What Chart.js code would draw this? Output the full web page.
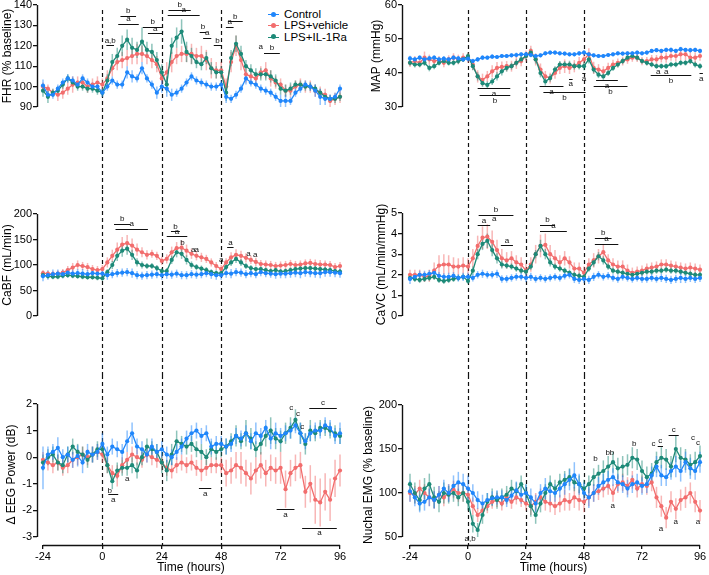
<!DOCTYPE html>
<html>
<head>
<meta charset="utf-8">
<script src="https://cdn.jsdelivr.net/npm/chart.js@4.4.1/dist/chart.umd.min.js"></script>
<style>
  body { margin: 0; background: #fff; width: 709px; height: 575px; position: relative; overflow: hidden;
         font-family: "Liberation Sans", Arial, sans-serif; }
  #legend { position: absolute; left: 268px; top: 8px; width: 90px; height: 36px; }
  .lg-row { position: absolute; left: 0; height: 12px; font-size: 11.5px; line-height: 12px; white-space: nowrap; color: #000; }
  .lg-line { position: absolute; left: 0; top: 6px; width: 11px; height: 1px; }
  .lg-dot { position: absolute; left: 3px; top: 3.5px; width: 5px; height: 5px; border-radius: 50%; }
  .lg-text { position: absolute; left: 16px; top: 0; }
</style>
</head>
<body>
<div id="legend"></div>
<script>
// time points (hours relative to LPS)
const hours = [-24,-22,-20,-18,-16,-14,-12,-10,-8,-6,-4,-2,0,2,4,6,8,10,12,14,16,18,20,22,24,26,28,30,32,34,36,38,40,42,44,46,48,50,52,54,56,58,60,62,64,66,68,70,72,74,76,78,80,82,84,86,88,90,92,94,96];
const xTicks = [-24, 0, 24, 48, 72, 96];
const injectionHours = [0, 24, 48];

const groupNames = ['Control', 'LPS+vehicle', 'LPS+IL-1Ra'];
const groupColors = ['#1f86fb', '#f26d6d', '#1d8a78'];
const groupErrColors = ['rgba(31,134,251,0.5)', 'rgba(242,109,109,0.5)', 'rgba(29,138,120,0.5)'];

// FHR (% baseline)
const fhrTicks = [90, 100, 110, 120, 130, 140];
const fhrControl = [100.5,96,96,99,102,104,103,101,104,102,100,100,97, 100,103,101,101,107,105,104,109,104,101,97,100, 99,96,97,99,102,105,103,102,101,100,100,101, 95,94,96,99,104,102,101,99,98,97,95,93, 93,93,97,99,101,100,98,95,94,94,95,99];
const fhrVehicle = [100,99,97,96,97,99,101,102,102,100,101,102,101, 104,109,112,113,114,115,116,116,115,113,111,104, 107,112,115,116,116,116,115,115,113,109,108,108, 100,112,120,113,106,105,104,107,108,104,102,101, 98,98,100,101,100,100,98,97,96,93,94,95];
const fhrIL1Ra = [98,95,97,98,101,104,102,100,100,99,99,98,97, 103,112,115,120,123,119,118,122,118,117,113,107, 101,120,124,127,117,115,112,111,114,109,107,107, 97,114,121,116,110,108,106,106,106,105,103,99, 98,99,101,101,100,100,99,97,95,94,94,95];
const fhrControlErr = [3,2,2,2,2,2,2,2,2,2,2,2,2, 2,2,2,2,3,3,2,3,2,2,3,3, 4,3,2,2,2,2,2,2,2,2,2,2, 3,2,2,2,3,2,2,2,2,2,2,3, 3,2,2,2,2,2,3,4,3,2,2,2];
const fhrVehicleErr = [2,2,2,3,3,3,4,3,3,3,3,3,3, 4,4,4,4,4,4,5,4,4,4,4,4, 5,5,4,4,4,5,4,5,5,5,4,4, 4,5,5,5,4,4,3,3,4,4,3,3, 3,3,3,3,3,3,3,3,3,3,3,3];
const fhrIL1RaErr = [3,3,2,2,2,2,2,2,2,2,2,2,2, 3,4,4,5,5,5,4,7,4,4,4,4, 4,4,5,6,5,4,3,3,3,3,3,3, 4,4,4,4,3,3,3,3,3,3,3,3, 3,3,2,2,2,2,2,2,2,2,2,2];
const fhrNotes = [
  ['a,b', 1.6, 4.7, 120.2, 'up'], ['b', 7.3, 13.6, 134.6, 'up'], ['a', 6.4, 14.7, 130.8, 'up'],
  ['b', 16.3, 24.3, 129.3, 'up'], ['a', 18.4, 24.3, 126.1, 'up'], ['b', 26.7, 35.7, 137.7, 'up'],
  ['a', 26.4, 39.3, 135, 'up'], ['b', 39.3, 42, 126.8, 'up'], ['a', 40.7, 44, 124, 'up'],
  ['b', 45, 48, 120.2, 'up'], ['a', 49.9, 53, 129.3, 'up'], ['b', 50.7, 56.7, 132, 'up'],
  ['a', 64, null, 119.4], ['b', 65.3, 71.7, 116.7, 'up']
];

// MAP (mmHg)
const mapTicks = [30, 40, 50, 60];
const mapControl = [44.3,44,44.5,44,44.3,44.5,44,44.2,44,44.5,44.3,44,44.2, 43.5,44,44.5,44.5,44.8,44.7,45,45,45.2,45.3,45.5,45.5, 45.3,45,45.2,45.8,46,46,45.8,45.7,45.5,45.5,45.8,46, 45.5,45.2,45,45,45.3,45.5,45.8,45.7,45.8,45.8,46,45.8, 46,46.5,46.7,46.5,46.8,46.8,46.5,47,46.8,46.7,46.8,46.5];
const mapVehicle = [43,43.5,43,44.5,44,43.5,43.8,43,44,44.5,44,44.5,44.5, 42.5,39,38,39,40.5,41.5,41.8,42,42,43,43.5,45, 46.5,44,41,39,38.5,40,41.5,42,41.5,42,43,44, 45.5,41.5,41,40.5,41.5,42.5,43,43.5,44,44.5,44.5,43.5, 43.5,44,44,44.5,44.5,45,45,45.5,45.5,44.5,44.5,45];
const mapIL1Ra = [43,42.5,42.5,43,41.5,42,43,43.5,43,43,43.5,44,45, 42,39,37,36.5,37.5,39,40.5,41.5,42,43,44,45, 46,44,40,37.5,38.5,41,42.5,42.5,42.5,42,42,42, 44,41,39.5,39,40,41.5,42.5,43.5,44.5,45,44.5,43.5, 43,42.5,42,42,42,42.5,42.5,43,43,43.5,42.5,42];
const mapControlErr = [0.8,0.7,0.7,0.8,0.7,0.7,0.7,0.8,0.7,0.7,0.7,0.7,0.8, 0.7,0.7,0.7,0.6,0.7,0.6,0.6,0.6,0.6,0.7,0.6,0.7, 0.7,0.6,0.6,0.6,0.6,0.6,0.6,0.6,0.6,0.6,0.7,0.8, 0.7,0.6,0.6,0.6,0.6,0.6,0.6,0.6,0.6,0.6,0.6,0.6, 0.6,0.6,0.6,0.6,0.6,0.7,0.6,0.7,0.6,0.7,0.6,0.6];
const mapVehicleErr = [1.2,1.5,1.3,1.8,1.4,1.3,1.2,1.3,1.2,1.3,1.4,1.3,1.5, 1.6,1.8,1.8,1.6,1.8,1.7,1.6,1.5,1.6,1.8,1.5,1.6, 1.5,1.8,1.8,1.6,1.6,1.7,1.8,2.0,1.8,1.8,1.7,1.8, 1.8,1.8,1.6,1.5,1.5,1.4,1.3,1.3,1.3,1.2,1.3,1.2, 1.2,1.3,1.3,1.4,1.5,1.4,1.6,1.8,1.8,1.9,1.6,1.4];
const mapIL1RaErr = [0.9,0.9,0.8,0.9,1.0,0.9,0.8,0.9,0.8,0.8,0.9,0.8,1.0, 1.2,1.2,1.1,1.0,1.0,1.2,1.2,1.1,1.0,1.0,1.1,1.2, 1.2,1.2,1.3,1.2,1.1,1.0,1.0,1.0,1.1,1.0,1.0,1.2, 1.2,1.1,1.0,1.0,0.9,0.9,0.9,0.9,0.9,0.8,0.8,0.8, 0.8,0.8,0.8,0.8,0.8,0.8,0.8,0.8,0.8,0.8,0.9,0.9];
const mapNotes = [
  ['a', 4, 17.5, 35.5, 'down'], ['b', 4.8, 17.5, 33.5, 'down'], ['a', 29.6, 39.5, 36.1, 'down'],
  ['b', 31.2, 48.7, 34.4, 'down'], ['a', 41.8, 43.3, 38.3, 'down'], ['a', 47.3, 48.6, 39.9, 'down'],
  ['a', 53, 62, 37.8, 'down'], ['b', 52, 66, 36.1, 'down'], ['a', 78.7, null, 40.5],
  ['a', 82, null, 40.5], ['b', 75.6, 92.4, 39.3, 'down'], ['a', 95.8, 97.2, 40, 'down']
];

// CaBF (mL/min)
const cabfTicks = [0, 50, 100, 150, 200];
const cabfControl = [78,80,82,83,82,85,83,84,83,82,84,83,83, 80,82,84,85,86,84,80,79,80,81,82,80, 82,81,83,80,80,82,81,82,84,82,80,80, 84,83,86,85,82,84,82,86,84,83,82,83, 83,84,85,84,86,85,84,84,86,86,85,84];
const cabfVehicle = [84,83,82,83,85,90,95,100,98,96,92,90,92, 105,118,130,140,143,138,130,125,120,122,118,108, 112,125,133,134,128,122,118,115,112,105,98,92, 105,115,120,118,114,110,106,102,101,100,98,99, 100,102,100,101,103,104,102,101,101,100,96,98];
const cabfIL1Ra = [80,78,77,77,79,80,79,78,77,76,76,75,74, 86,100,118,128,132,120,105,100,98,98,94,88, 88,110,125,122,110,100,96,93,90,86,84,84, 96,105,112,105,98,94,92,92,90,88,90,87, 88,90,92,93,94,94,93,92,91,90,88,87];
const cabfControlErr = [10,9,9,8,8,9,8,8,9,8,8,9,9, 9,8,8,8,8,9,8,8,8,8,8,9, 9,8,8,8,8,8,8,8,8,9,9,9, 9,9,8,8,8,8,8,8,8,8,9,9, 9,9,9,10,9,9,9,10,9,9,9,9];
const cabfVehicleErr = [6,6,6,6,7,8,9,9,8,8,8,8,8, 10,12,14,15,16,14,12,10,9,8,8,8, 9,11,12,14,12,10,9,9,8,8,8,8, 8,10,11,10,9,8,8,8,8,8,8,8, 8,8,8,8,8,8,9,9,8,8,8,8];
const cabfIL1RaErr = [6,5,5,5,5,5,5,5,5,5,5,5,5, 6,8,10,12,12,10,8,7,6,6,6,6, 6,8,10,10,9,7,6,6,6,5,5,5, 6,7,8,7,6,6,5,5,5,5,5,5, 5,5,5,5,5,5,5,5,5,5,5,5];
const cabfNotes = [
  ['b', 4.7, 11.3, 181, 'up'], ['a', 5.3, 18.4, 171, 'up'], ['b', 27.7, 31.3, 166, 'up'],
  ['a', 26, 34.3, 156, 'up'], ['b', 32.4, null, 143], ['a', 36.7, null, 130], ['a', 38.1, null, 129],
  ['a', 50.4, 53, 134.7, 'up'], ['a', 59, null, 121.5], ['a', 61.7, null, 120.5], ['a', 48, null, 110]
];

// CaVC (mL/min/mmHg)
const cavcTicks = [0, 1, 2, 3, 4, 5];
const cavcControl = [1.8,1.9,2.0,2.0,2.05,2.1,1.95,1.9,1.9,1.95,1.85,1.9,1.9, 1.85,2.0,2.05,2.0,2.0,2.05,1.8,1.8,1.85,1.9,1.9,1.85, 1.9,1.8,1.85,1.8,1.85,1.9,1.85,1.95,2.0,1.8,1.75,1.8, 1.75,1.9,2.0,1.9,1.95,1.85,1.8,1.9,1.85,1.8,1.85,1.8, 1.8,1.85,1.8,1.85,1.8,1.75,1.8,1.85,1.8,1.85,1.8,1.85];
const cavcVehicle = [2.0,2.0,2.0,1.9,1.95,2.2,2.45,2.5,2.5,2.4,2.4,2.45,2.4, 2.8,3.4,3.8,3.85,3.6,3.2,2.8,2.7,2.8,2.6,2.5,2.2, 2.5,3.0,3.4,3.45,3.0,2.8,2.6,2.8,2.6,2.3,2.3,2.1, 2.5,2.7,2.9,3.1,2.7,2.5,2.4,2.4,2.2,2.1,2.15,2.2, 2.3,2.35,2.4,2.5,2.5,2.45,2.4,2.35,2.3,2.35,2.3,2.25];
const cavcIL1Ra = [1.85,1.8,1.75,1.8,1.85,1.9,1.75,1.7,1.75,1.8,1.85,1.9,1.7, 2.2,3.0,3.5,3.65,3.2,2.8,2.5,2.45,2.4,2.3,2.2,2.15, 2.4,3.0,3.4,3.0,2.6,2.4,2.3,2.2,2.1,2.0,1.95,1.9, 2.3,2.6,2.9,2.7,2.4,2.2,2.15,2.1,2.05,2.0,2.05,2.1, 2.15,2.15,2.2,2.2,2.25,2.2,2.2,2.15,2.1,2.05,2.0,2.0];
const cavcControlErr = [0.25,0.2,0.2,0.2,0.18,0.2,0.18,0.18,0.2,0.18,0.18,0.2,0.2, 0.18,0.18,0.2,0.18,0.18,0.2,0.18,0.18,0.18,0.18,0.18,0.2, 0.2,0.18,0.18,0.18,0.18,0.18,0.18,0.18,0.18,0.2,0.2,0.2, 0.2,0.2,0.18,0.18,0.18,0.18,0.18,0.18,0.18,0.18,0.18,0.18, 0.18,0.18,0.18,0.2,0.2,0.2,0.2,0.25,0.2,0.2,0.2,0.2];
const cavcVehicleErr = [0.25,0.25,0.25,0.25,0.3,0.4,0.5,0.5,0.45,0.45,0.4,0.4,0.4, 0.45,0.5,0.55,0.6,0.55,0.5,0.45,0.4,0.35,0.35,0.35,0.35, 0.35,0.45,0.55,0.55,0.45,0.4,0.35,0.35,0.3,0.3,0.3,0.3, 0.3,0.35,0.35,0.35,0.3,0.3,0.3,0.3,0.3,0.25,0.25,0.25, 0.25,0.25,0.25,0.25,0.25,0.25,0.25,0.25,0.25,0.25,0.25,0.25];
const cavcIL1RaErr = [0.15,0.15,0.15,0.15,0.15,0.15,0.15,0.15,0.15,0.15,0.15,0.15,0.15, 0.2,0.25,0.3,0.35,0.3,0.25,0.2,0.15,0.15,0.15,0.15,0.15, 0.15,0.2,0.3,0.25,0.2,0.15,0.15,0.15,0.15,0.15,0.15,0.15, 0.15,0.2,0.2,0.2,0.15,0.15,0.15,0.15,0.15,0.15,0.15,0.15, 0.15,0.15,0.15,0.15,0.15,0.15,0.15,0.15,0.15,0.15,0.15,0.15];
const cavcNotes = [
  ['b', 4.4, 18.8, 4.9, 'up'], ['a', 4, 9.2, 4.4, 'up'], ['a', 10.9, null, 4.72],
  ['a', 13.6, 18.6, 3.43, 'up'], ['b', 29.8, 36, 4.43, 'up'], ['a', 29.8, 40.9, 4.12, 'up'],
  ['b', 52.5, 59.4, 3.8, 'up'], ['a', 52.5, 62.2, 3.49, 'up']
];

// Δ EEG Power (dB)
const eegTicks = [-3, -2, -1, 0, 1, 2];
const eegControl = [-0.4,0.1,0.2,0.35,0.0,0.1,-0.1,0.05,-0.2,0.2,0.1,0.2,0.5, 0.1,0.4,0.3,0.2,0.6,0.9,0.4,0.3,0.1,0.4,0.2,0.3, 0.1,0.0,0.2,0.4,0.7,0.9,1.0,0.8,0.9,0.4,0.5,0.5, 0.4,0.5,0.8,0.7,0.9,0.6,0.9,0.8,1.1,0.7,0.9,0.8, 0.9,1.0,1.2,0.9,0.6,0.9,1.0,1.0,1.2,1.1,0.8,0.9];
const eegVehicle = [-0.1,-0.2,-0.3,-0.2,-0.4,-0.3,-0.1,0.0,0.1,0.0,0.1,0.2,0.1, -0.3,-0.6,-0.7,-0.3,-0.1,0.1,0.0,-0.1,0.1,0.0,-0.1,-0.2, -0.4,-0.5,-0.3,-0.2,-0.3,-0.2,-0.4,-0.5,-0.4,-0.3,-0.3,-0.3, -0.6,-0.5,-0.3,-0.4,-0.6,-0.8,-0.5,-0.3,-0.6,-0.4,-0.5,-0.4, -1.2,-0.6,-0.4,-0.3,-1.3,-1.0,-1.6,-1.7,-1.3,-1.6,-0.8,-0.5];
const eegIL1Ra = [-0.2,0.0,0.1,-0.2,-0.3,0.1,0.4,0.2,0.1,-0.1,0.1,0.3,0.3, -0.3,-0.9,-0.5,-0.4,-0.4,-0.3,-0.5,0.0,0.4,0.3,0.2,-0.2, -0.5,0.1,0.6,0.5,0.4,0.5,0.3,0.2,0.0,0.3,0.2,0.3, 0.4,0.6,0.8,0.6,0.9,0.7,0.3,0.5,0.8,1.0,0.7,0.6, 0.9,1.1,1.4,0.9,0.5,1.0,0.9,1.1,1.1,1.0,0.9,0.8];
const eegControlErr = [0.8,0.3,0.3,0.4,0.3,0.3,0.3,0.4,0.4,0.3,0.3,0.3,0.4, 0.3,0.3,0.3,0.3,0.4,0.4,0.3,0.3,0.3,0.3,0.3,0.3, 0.3,0.3,0.3,0.3,0.3,0.3,0.3,0.3,0.3,0.3,0.3,0.3, 0.3,0.3,0.3,0.3,0.3,0.3,0.4,0.3,0.3,0.4,0.4,0.3, 0.3,0.3,0.3,0.4,0.3,0.3,0.3,0.3,0.3,0.3,0.3,0.4];
const eegVehicleErr = [0.3,0.3,0.3,0.3,0.3,0.3,0.3,0.3,0.3,0.3,0.3,0.3,0.3, 0.3,0.3,0.4,0.3,0.3,0.3,0.3,0.3,0.3,0.3,0.3,0.3, 0.3,0.3,0.3,0.3,0.3,0.3,0.3,0.4,0.3,0.3,0.3,0.3, 0.5,0.5,0.5,0.6,0.5,0.6,0.5,0.5,0.5,0.5,0.5,0.6, 0.7,0.5,0.5,0.5,0.6,0.7,0.9,0.9,0.7,0.8,0.7,0.6];
const eegIL1RaErr = [0.3,0.3,0.3,0.3,0.3,0.3,0.3,0.3,0.3,0.3,0.3,0.3,0.3, 0.3,0.3,0.3,0.3,0.3,0.3,0.3,0.3,0.3,0.3,0.3,0.4, 0.4,0.4,0.4,0.3,0.3,0.3,0.3,0.3,0.3,0.3,0.3,0.3, 0.3,0.3,0.4,0.3,0.5,0.4,0.3,0.4,0.4,0.5,0.4,0.4, 0.4,0.4,0.4,0.4,0.4,0.4,0.3,0.3,0.3,0.3,0.3,0.3];
const eegNotes = [
  ['b', 3, null, -1.25], ['a', 2.4, 6.4, -1.4, 'down'], ['a', 10, null, -0.8],
  ['a', 39, 44, -1.15, 'down'], ['a', 70.4, 77.6, -1.96, 'down'], ['a', 80.7, 94.7, -2.65, 'down'],
  ['c', 76.3, null, 1.85], ['c', 79, null, 1.62], ['c', 80.7, null, 1.14], ['c', 83.6, 94.7, 1.85, 'up']
];

// Nuchal EMG (% baseline)
const emgTicks = [50, 100, 150, 200];
const emgControl = [102,95,88,90,95,92,98,105,100,108,112,110,105, 100,92,88,92,94,95,95,92,97,103,98,100, 95,88,100,105,102,100,105,110,115,120,110,100, 95,100,108,112,115,118,112,110,105,110,112,108, 110,120,130,120,118,125,130,125,135,128,125,135];
const emgVehicle = [100,98,105,100,95,92,98,95,100,104,100,100,98, 85,75,80,85,90,92,88,95,90,95,92,88, 85,90,95,90,88,85,88,92,90,95,92,90, 95,100,102,105,108,100,110,112,108,115,105,110, 108,112,95,85,72,90,82,92,95,100,90,80];
const emgIL1Ra = [110,100,92,105,110,95,90,100,98,100,95,100,90, 65,58,75,90,95,92,95,98,105,102,110,100, 85,75,88,100,110,105,112,115,118,112,110,105, 110,118,122,125,130,135,128,130,132,140,138,125, 118,122,135,140,138,130,150,140,138,132,135,142];
const emgControlErr = [12,10,10,10,10,10,10,10,10,12,12,12,15, 10,10,10,8,8,8,8,8,8,10,10,10, 10,10,10,12,12,10,10,12,12,15,12,12, 12,10,10,10,10,10,10,10,10,10,10,10, 10,10,12,12,10,10,12,12,12,12,10,12];
const emgVehicleErr = [10,10,10,10,10,10,10,10,10,10,10,10,10, 10,8,8,8,8,8,8,8,8,8,8,8, 10,10,10,10,10,10,10,12,10,12,12,12, 10,10,10,10,10,10,10,10,10,10,10,10, 10,10,12,12,12,12,12,12,12,12,12,12];
const emgIL1RaErr = [12,12,12,12,12,12,12,12,10,10,10,10,10, 10,8,10,10,10,10,10,10,10,10,10,10, 12,10,10,10,10,10,10,10,10,10,10,10, 10,10,10,12,12,12,12,12,12,12,12,12, 12,12,12,12,12,12,15,12,12,12,12,12];
const emgNotes = [
  ['a,b', 0.9, null, 47.5], ['b', 52.8, null, 138.5], ['b', 57.8, null, 146], ['b', 59.6, null, 146],
  ['b', 68.8, null, 156], ['a', 59.9, null, 85.5], ['c', 76.8, null, 155.7], ['c', 78.5, 80.7, 153.8, 'up'],
  ['a', 79.9, null, 59.5], ['c', 83, 87.2, 166.4, 'up'], ['a', 86, null, 66.8],
  ['c', 93.1, null, 162.6], ['c', 95.2, null, 157.6], ['a', 95.2, null, 66.8]
];

// page layout of the 3x2 grid
const columns = [
  { left: 0, w: 355, axisW: 37, padRight: 10, xMin: -26.42, xMax: 98.02 },
  { left: 355, w: 354, axisW: 47, padRight: 4, xMin: -27.31, xMax: 98.07 }
];
const rows = [
  { top: 0, h: 190, padBottom: 53, lineTop: 10, showX: false },
  { top: 190, h: 185, padBottom: 29, lineTop: 0, showX: false },
  { top: 375, h: 200, padBottom: 0, lineTop: 0, showX: true }
];

const panels = [
  { col: 0, row: 0, title: 'FHR (% baseline)', ticks: fhrTicks, yMin: 90, padTop: 5, titlePad: 0,
    series: [fhrControl, fhrVehicle, fhrIL1Ra], errs: [fhrControlErr, fhrVehicleErr, fhrIL1RaErr], notes: fhrNotes },
  { col: 1, row: 0, title: 'MAP (mmHg)', ticks: mapTicks, yMin: 30, padTop: 5, titlePad: 14.5,
    series: [mapControl, mapVehicle, mapIL1Ra], errs: [mapControlErr, mapVehicleErr, mapIL1RaErr], notes: mapNotes },
  { col: 0, row: 1, title: 'CaBF (mL/min)', ticks: cabfTicks, yMin: 0, padTop: 24, titlePad: 0,
    series: [cabfControl, cabfVehicle, cabfIL1Ra], errs: [cabfControlErr, cabfVehicleErr, cabfIL1RaErr], notes: cabfNotes },
  { col: 1, row: 1, title: 'CaVC (mL/min/mmHg)', ticks: cavcTicks, yMin: 0, padTop: 23, titlePad: 19.5,
    series: [cavcControl, cavcVehicle, cavcIL1Ra], errs: [cavcControlErr, cavcVehicleErr, cavcIL1RaErr], notes: cavcNotes },
  { col: 0, row: 2, title: 'Δ EEG Power (dB)', ticks: eegTicks, yMin: -3.3, padTop: 29, titlePad: 4.5,
    series: [eegControl, eegVehicle, eegIL1Ra], errs: [eegControlErr, eegVehicleErr, eegIL1RaErr], notes: eegNotes },
  { col: 1, row: 2, title: 'Nuchal EMG (% baseline)', ticks: emgTicks, yMin: 40.9, padTop: 30, titlePad: 6,
    series: [emgControl, emgVehicle, emgIL1Ra], errs: [emgControlErr, emgVehicleErr, emgIL1RaErr], notes: emgNotes }
];

// dashed injection lines, error bars, offset axis lines and significance marks
const overlayPlugin = {
  id: 'overlay',
  beforeDatasetsDraw(chart, args, opts) {
    const { ctx, chartArea, scales: { x, y } } = chart;
    ctx.save();
    ctx.setLineDash([4, 3]);
    ctx.strokeStyle = '#111';
    ctx.lineWidth = 1.2;
    injectionHours.forEach(h => {
      const px = Math.round(x.getPixelForValue(h)) + 0.5;
      ctx.beginPath();
      ctx.moveTo(px, opts.lineTop);
      ctx.lineTo(px, opts.showX ? chartArea.bottom : chart.height);
      ctx.stroke();
    });
    ctx.setLineDash([]);
    ctx.lineWidth = 1.5;
    chart.data.datasets.slice().reverse().forEach(ds => {
      ctx.strokeStyle = ds.errColor;
      ds.data.forEach((p, j) => {
        const px = x.getPixelForValue(p.x);
        ctx.beginPath();
        ctx.moveTo(px, y.getPixelForValue(p.y + ds.err[j]));
        ctx.lineTo(px, y.getPixelForValue(p.y - ds.err[j]));
        ctx.stroke();
      });
    });
    ctx.restore();
  },
  afterDraw(chart, args, opts) {
    const { ctx, chartArea, scales: { x, y } } = chart;
    ctx.save();
    ctx.strokeStyle = '#111';
    ctx.lineWidth = 1.4;
    const ax = Math.round(chartArea.left) + 0.5;
    ctx.beginPath();
    ctx.moveTo(ax, y.getPixelForValue(opts.ticks[opts.ticks.length - 1]));
    ctx.lineTo(ax, y.getPixelForValue(opts.ticks[0]));
    ctx.stroke();
    if (opts.showX) {
      const ay = Math.round(chartArea.bottom) + 0.5;
      ctx.beginPath();
      ctx.moveTo(x.getPixelForValue(xTicks[0]), ay);
      ctx.lineTo(x.getPixelForValue(xTicks[xTicks.length - 1]), ay);
      ctx.stroke();
    }
    ctx.lineWidth = 1;
    ctx.fillStyle = '#111';
    ctx.font = '8px "Liberation Sans", Arial, sans-serif';
    ctx.textAlign = 'center';
    ctx.textBaseline = 'middle';
    opts.notes.forEach(([label, x1, x2, yv, pos]) => {
      const py = y.getPixelForValue(yv);
      if (x2 === null) {
        ctx.fillText(label, x.getPixelForValue(x1), py);
        return;
      }
      const p1 = x.getPixelForValue(x1), p2 = x.getPixelForValue(x2);
      ctx.beginPath();
      ctx.moveTo(p1, Math.round(py) + 0.5);
      ctx.lineTo(p2, Math.round(py) + 0.5);
      ctx.stroke();
      ctx.fillText(label, (p1 + p2) / 2, pos === 'up' ? py - 5 : py + 5.5);
    });
    ctx.restore();
  }
};

function makeChart(p) {
  const col = columns[p.col], row = rows[p.row];
  const canvas = document.createElement('canvas');
  canvas.width = col.w;
  canvas.height = row.h;
  canvas.style.cssText = `position:absolute;left:${col.left}px;top:${row.top}px;width:${col.w}px;height:${row.h}px`;
  document.body.appendChild(canvas);

  // control drawn on top, vehicle at the back
  const datasets = [0, 2, 1].map(g => ({
    label: groupNames[g],
    data: hours.map((h, i) => ({ x: h, y: p.series[g][i] })),
    err: p.errs[g],
    errColor: groupErrColors[g],
    borderColor: groupColors[g],
    backgroundColor: groupColors[g],
    borderWidth: 1.3,
    pointRadius: 2.1,
    pointBorderWidth: 0,
    tension: 0,
    clip: false
  }));

  new Chart(canvas, {
    type: 'line',
    data: { datasets },
    options: {
      responsive: false,
      animation: false,
      layout: { padding: { left: 0, right: col.padRight, top: p.padTop, bottom: row.padBottom } },
      plugins: {
        legend: { display: false },
        tooltip: { enabled: false },
        overlay: { lineTop: row.lineTop, showX: row.showX, ticks: p.ticks, notes: p.notes }
      },
      scales: {
        x: {
          type: 'linear',
          min: col.xMin,
          max: col.xMax,
          display: row.showX,
          border: { display: false },
          grid: { drawOnChartArea: false, drawTicks: true, tickLength: 4, color: '#111', lineWidth: 1.3 },
          ticks: { font: { size: 11, family: 'Liberation Sans' }, color: '#000', padding: 1, maxRotation: 0, autoSkip: false },
          afterBuildTicks: s => { s.ticks = xTicks.map(v => ({ value: v })); },
          afterFit: s => { s.height = 30; s.paddingLeft = 0; s.paddingRight = 0; },
          title: { display: true, text: 'Time (hours)', font: { size: 12, family: 'Liberation Sans' }, color: '#000', padding: 0 }
        },
        y: {
          type: 'linear',
          min: p.yMin,
          max: p.ticks[p.ticks.length - 1],
          border: { display: false },
          grid: { drawOnChartArea: false, drawTicks: true, tickLength: 4, color: '#111', lineWidth: 1.3 },
          ticks: { font: { size: 11, family: 'Liberation Sans' }, color: '#000', padding: 1 },
          afterBuildTicks: s => { s.ticks = p.ticks.map(v => ({ value: v })); },
          afterFit: s => { s.width = col.axisW; s.paddingTop = 0; s.paddingBottom = 0; },
          title: { display: true, text: p.title, font: { size: 12, family: 'Liberation Sans' }, color: '#000',
                   padding: { top: p.titlePad, bottom: 0 } }
        }
      }
    },
    plugins: [overlayPlugin]
  });
}

panels.forEach(makeChart);

// legend
const legend = document.getElementById('legend');
groupNames.forEach((name, g) => {
  const row = document.createElement('div');
  row.className = 'lg-row';
  row.style.top = (g * 11.3) + 'px';
  row.innerHTML = `<span class="lg-line" style="background:${groupColors[g]}"></span>` +
    `<span class="lg-dot" style="background:${groupColors[g]}"></span><span class="lg-text">${name}</span>`;
  legend.appendChild(row);
});
</script>
</body>
</html>
